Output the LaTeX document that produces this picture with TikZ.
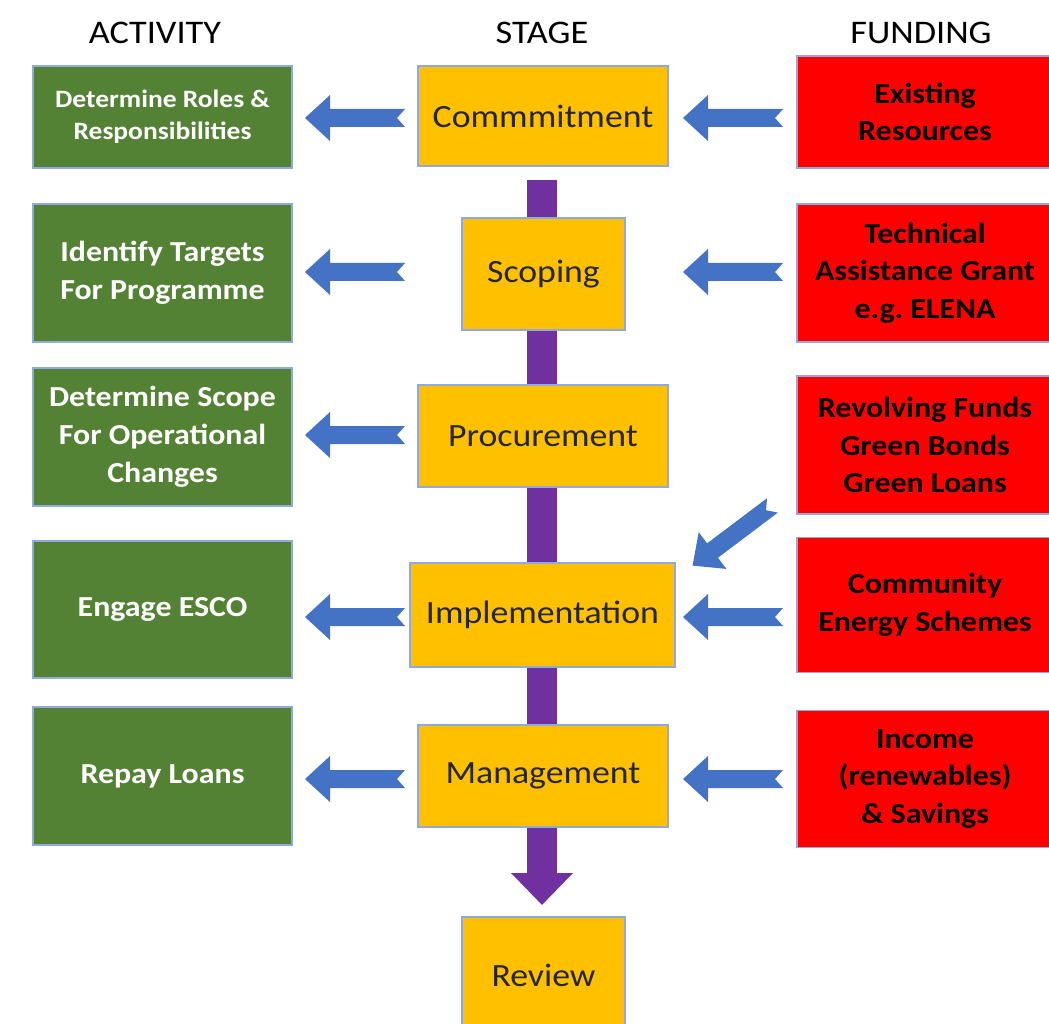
\documentclass[tikz,border=0pt]{standalone}
\usepackage{fontspec}
\setmainfont{Carlito}[FakeStretch=1.1]
\usetikzlibrary{arrows.meta,calc}

\definecolor{actgreen}{HTML}{548235}
\definecolor{stageyellow}{HTML}{FFC000}
\definecolor{fundred}{HTML}{FF0000}
\definecolor{arrowblue}{HTML}{4472C4}
\definecolor{barpurple}{HTML}{7030A0}
\definecolor{edgeblue}{HTML}{8FAADC}
\definecolor{darktext}{HTML}{262626}

\tikzset{
  box/.style={draw=edgeblue, line width=1.2pt, align=center, inner sep=0pt},
  activity/.style={box, fill=actgreen, text=white,
    font=\bfseries\fontsize{29}{38}\selectfont, minimum width=259pt, minimum height=138pt},
  stagebox/.style={box, fill=stageyellow, text=darktext,
    font=\fontsize{32.5}{38}\selectfont},
  funding/.style={box, fill=fundred, text=black,
    font=\bfseries\fontsize{29}{37.5}\selectfont, minimum width=256pt, minimum height=138pt},
  header/.style={font=\fontsize{33}{38}\selectfont, text=black},
  blockarrow/.pic={
    \fill[arrowblue] (-50,0) -- (-25,23) -- (-25,9) -- (50,9) -- (42,0)
      -- (50,-9) -- (-25,-9) -- (-25,-23) -- cycle;
  },
  purplebar/.style={draw=barpurple, line width=30pt,
    -{Triangle[width=60pt,length=32pt]}},
}

\begin{document}
\begin{tikzpicture}[x=1pt,y=-1pt]
  \useasboundingbox (0,0) rectangle (1049,1024);

  % column headings
  \node[header] (hact)  at (155,33) {ACTIVITY};
  \node[header] (hstage) at (542,33) {STAGE};
  \node[header] (hfund) at (921,33) {FUNDING};

  % stage flow bar (behind the stage boxes)
  \coordinate (bartop) at (542,180);
  \coordinate (bartip) at (542,905);
  \draw[purplebar] (bartop) -- (bartip);

  % activity column
  \node[activity, minimum height=102pt, font=\bfseries\fontsize{25}{32}\selectfont]
    (g1) at (162.5,117) {Determine Roles \&\\Responsibilities};
  \node[activity] (g2) at (162.5,273) {Identify Targets\\For Programme};
  \node[activity] (g3) at (162.5,437) {Determine Scope\\For Operational\\Changes};
  \node[activity, minimum height=137pt] (g4) at (162.5,609.5) {Engage ESCO};
  \node[activity] (g5) at (162.5,776) {Repay Loans};

  % stage column
  \node[stagebox, minimum width=250pt, minimum height=100pt] (s1) at (543,116) {Commmitment};
  \node[stagebox, minimum width=163pt, minimum height=112pt] (s2) at (543.5,274) {Scoping};
  \node[stagebox, minimum width=250pt, minimum height=102pt] (s3) at (543,436) {Procurement};
  \node[stagebox, minimum width=265pt, minimum height=104pt] (s4) at (542.5,615) {Implementation};
  \node[stagebox, minimum width=250pt, minimum height=102pt] (s5) at (543,776) {Management};
  \node[stagebox, minimum width=163pt, minimum height=116pt] (s6) at (543.5,975) {Review};

  % funding column
  \node[funding, minimum height=112pt] (r1) at (925,112) {Existing\\Resources};
  \node[funding] (r2) at (925,273) {Technical\\Assistance Grant\\e.g.\ ELENA};
  \node[funding] (r3) at (925,445) {Revolving Funds\\Green Bonds\\Green Loans};
  \node[funding, minimum height=135pt] (r4) at (925,605) {Community\\Energy Schemes};
  \node[funding, minimum height=137pt] (r5) at (925,779) {Income\\(renewables)\\\& Savings};

  % stage -> activity arrows
  \pic at (355,118) {blockarrow};
  \pic at (355,272) {blockarrow};
  \pic at (355,435) {blockarrow};
  \pic at (355,617) {blockarrow};
  \pic at (355,779) {blockarrow};

  % funding -> stage arrows
  \pic at (733,118) {blockarrow};
  \pic at (733,272) {blockarrow};
  \pic at (733,617) {blockarrow};
  \pic at (733,779) {blockarrow};
  \pic[rotate=37] at (732.5,535.5) {blockarrow};
\end{tikzpicture}
\end{document}
